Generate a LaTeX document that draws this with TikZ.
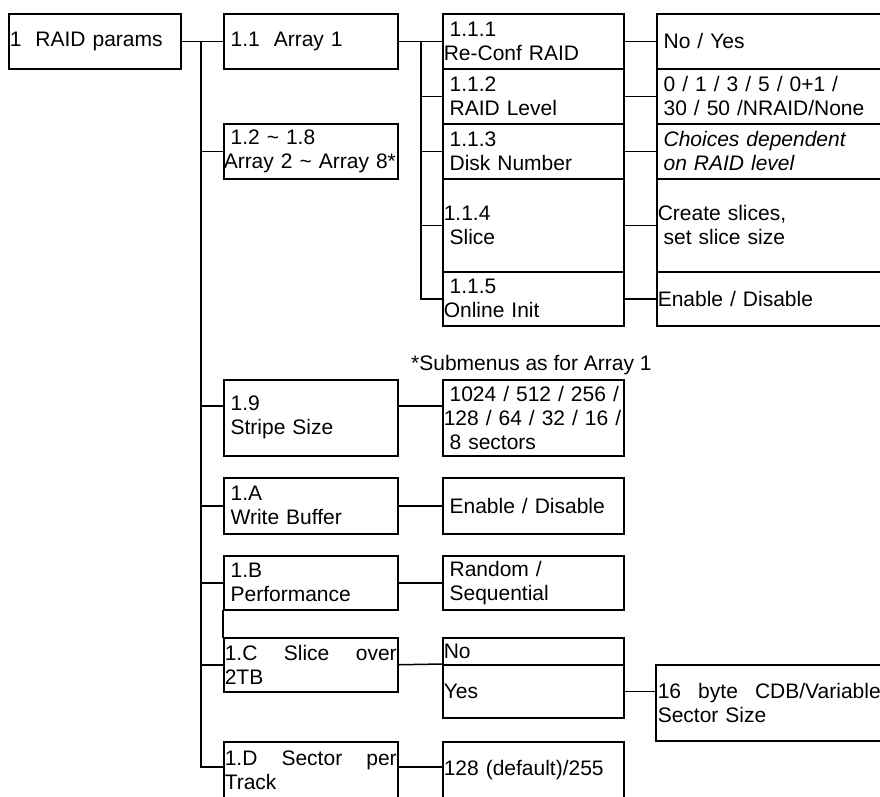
\documentclass[tikz,border=0pt]{standalone}
\usepackage{fontspec}
\setmainfont{Liberation Sans}
\newcommand\myind{\hspace*{0.278em}}
\begin{document}
\begin{tikzpicture}[x=1pt,y=-1pt,
  bx/.style={draw, line width=1.5pt, rectangle, anchor=north west, inner xsep=1pt, inner ysep=0pt, align=left, font=\fontsize{21}{24}\selectfont},
  bxi/.style={bx, font=\fontsize{21}{24}\selectfont\itshape},
  wl/.style={minimum width=174pt, text width=172pt},
  wm/.style={minimum width=181pt, text width=179pt},
  wr/.style={minimum width=226pt, text width=224pt},
  ln/.style={line width=1.5pt, line cap=rect},
  ]
\useasboundingbox (0,0) rectangle (880,796);
% level 1 and 2
\node[bx, minimum width=172pt, text width=170pt, minimum height=55pt] (raid) at (8,13) {1\ \ RAID params};
\node[bx, wl, minimum height=55pt] (a11) at (223,13) {\myind 1.1\ \ Array 1};
\node[bx, minimum width=174pt, text width=174pt, inner xsep=0pt, minimum height=55pt] (a12) at (223,123) {\myind\hspace*{1pt}1.2 \textasciitilde{} 1.8\\\mbox{Array 2 \textasciitilde{} Array 8*}};
% array 1 submenus
\node[bx, wm, minimum height=55pt] (a111) at (442,13) {\myind 1.1.1\\Re-Conf RAID};
\node[bx, wm, minimum height=55pt] (a112) at (442,68) {\myind 1.1.2\\\myind RAID Level};
\node[bx, wm, minimum height=55pt] (a113) at (442,123) {\myind 1.1.3\\\myind Disk Number};
\node[bx, wm, minimum height=93pt] (a114) at (442,178) {1.1.4\\\myind Slice};
\node[bx, wm, minimum height=54pt] (a115) at (442,271) {\myind 1.1.5\\Online Init};
\node[bx, wr, minimum height=55pt] (r111) at (656,13) {\myind No / Yes};
\node[bx, wr, minimum height=55pt] (r112) at (656,68) {\myind 0 / 1 / 3 / 5 / 0+1 /\\\myind 30 / 50 /NRAID/None};
\node[bxi, wr, minimum height=55pt] (r113) at (656,123) {\myind Choices dependent\\\myind on RAID level};
\node[bx, wr, minimum height=93pt] (r114) at (656,178) {Create slices,\\\myind set slice size};
\node[bx, wr, minimum height=54pt] (r115) at (656,271) {Enable / Disable};
\node[anchor=base west, inner sep=0pt, font=\fontsize{21}{24}\selectfont] (note) at (411,370) {*Submenus as for Array 1};
% lower items
\node[bx, wl, minimum height=76pt] (p19) at (223,379) {\myind 1.9\\\myind Stripe Size};
\node[bx, wm, minimum height=76pt] (stripe) at (442,379) {\myind 1024 / 512 / 256 /\\128 / 64 / 32 / 16 /\\\myind 8 sectors};
\node[bx, wl, minimum height=56pt] (p1A) at (223,477) {\myind 1.A\\\myind Write Buffer};
\node[bx, wm, minimum height=56pt] (en) at (442,477) {\myind Enable / Disable};
\node[bx, wl, minimum height=54pt] (p1B) at (223,555) {\myind 1.B\\\myind Performance};
\node[bx, wm, minimum height=54pt] (rnd) at (442,555) {\myind Random /\\\myind Sequential};
\node[bx, wl, minimum height=54pt] (p1C) at (223,637) {1.C\hfill Slice\hfill over\\2TB};
\node[bx, wm, minimum height=27pt] (no) at (442,637) {No};
\node[bx, wm, minimum height=53pt] (yes) at (442,664) {Yes};
\node[bx, minimum width=227pt, text width=223pt, inner xsep=2pt, minimum height=76pt] (cdb) at (655,664) {16\hfill byte\hfill CDB/Variable\\Sector Size};
\node[bx, wl, minimum height=57pt] (p1D) at (223,741) {1.D\hfill Sector\hfill per\\Track};
\node[bx, wm, minimum height=57pt] (d128) at (442,741) {128 (default)/255};
% connector helper points
\coordinate (trk) at (201,0);
\coordinate (sub) at (421,0);
\coordinate (l19) at ([yshift=-27pt]p19.north west);
\coordinate (l1D) at ([yshift=-26pt]p1D.north west);
% main trunk
\draw[ln] (raid.east) -- (a11.west);
\draw[ln] (trk |- raid.east) -- (trk |- l1D);
\draw[ln] (trk |- a12.west) -- (a12.west);
\draw[ln] (trk |- l19) -- (l19);
\draw[ln] (trk |- p1A.west) -- (p1A.west);
\draw[ln] (trk |- p1B.west) -- (p1B.west);
\draw[ln] (trk |- p1C.west) -- (p1C.west);
\draw[ln] (trk |- l1D) -- (l1D);
% array 1 subtrunk
\draw[ln] (a11.east) -- (a111.west);
\draw[ln] (sub |- a11.east) -- (sub |- a115.west);
\draw[ln] (sub |- a112.west) -- (a112.west);
\draw[ln] (sub |- a113.west) -- (a113.west);
\draw[ln] (sub |- a114.west) -- (a114.west);
\draw[ln] (sub |- a115.west) -- (a115.west);
\draw[ln] (a111.east) -- (r111.west);
\draw[ln] (a112.east) -- (r112.west);
\draw[ln] (a113.east) -- (r113.west);
\draw[ln] (a114.east) -- (r114.west);
\draw[ln] (a115.east) -- (r115.west);
% lower connectors
\draw[ln] (p19.east |- l19) -- (stripe.west |- l19);
\draw[ln] (p1A.east) -- (en.west);
\draw[ln] (p1B.east) -- (rnd.west);
\draw[ln] (p1B.south west) -- (p1C.north west);
\draw[ln] (p1C.east) -- (yes.north west);
\draw[ln] (yes.east) -- (yes.east -| cdb.west);
\draw[ln] (p1D.east |- l1D) -- (d128.west |- l1D);
\end{tikzpicture}
\end{document}
